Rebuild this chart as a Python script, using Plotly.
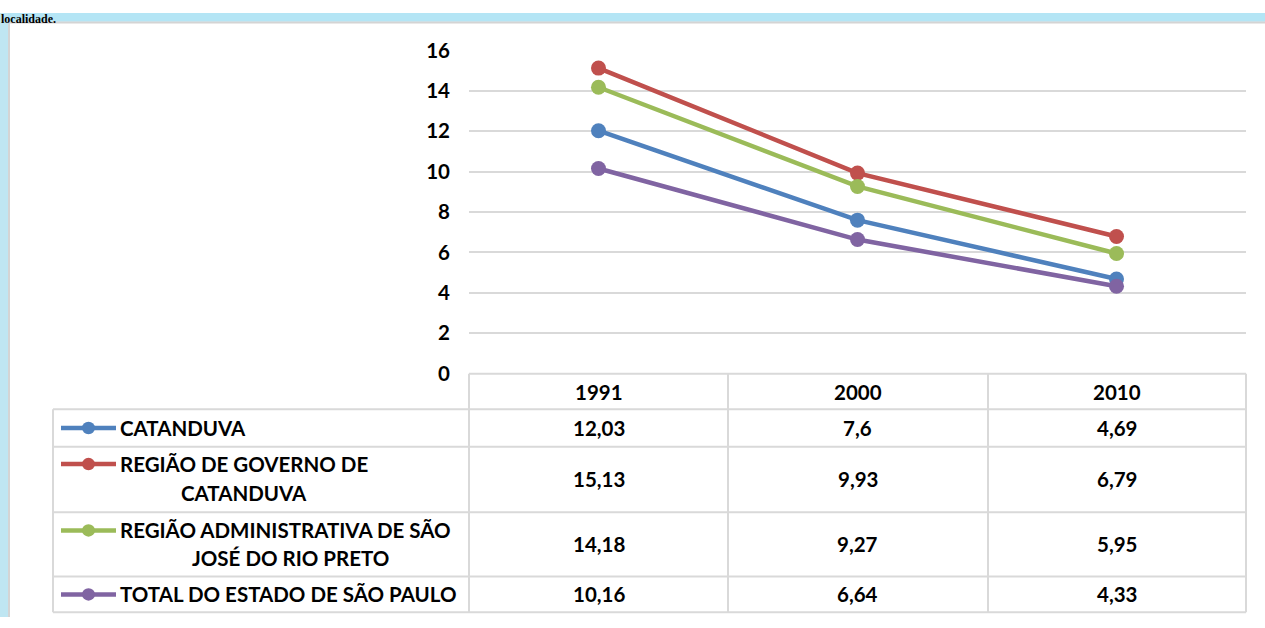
import plotly.graph_objects as go

# data
years = ["1991", "2000", "2010"]
series_names = [
    "CATANDUVA",
    "REGIÃO DE GOVERNO DE<br>CATANDUVA",
    "REGIÃO ADMINISTRATIVA DE SÃO<br>JOSÉ DO RIO PRETO",
    "TOTAL DO ESTADO DE SÃO PAULO",
]
catanduva = [12.03, 7.6, 4.69]
rg_catanduva = [15.13, 9.93, 6.79]
ra_sjrp = [14.18, 9.27, 5.95]
total_sp = [10.16, 6.64, 4.33]
y_ticks = [0, 2, 4, 6, 8, 10, 12, 14, 16]

series_values = [catanduva, rg_catanduva, ra_sjrp, total_sp]
colors = ["#4f81bd", "#c0504d", "#9bbb59", "#8064a2"]

W, H = 1265, 628
FONT = "Lato"
GRID = "#d9d9d9"


def px(x):
    return x / W


def py(y):
    return 1 - y / H


fig = go.Figure()
for name, vals, col in zip(series_names, series_values, colors):
    fig.add_trace(go.Scatter(x=years, y=vals, mode="lines+markers",
                             name=name.replace("<br>", " "),
                             line=dict(color=col, width=4.5),
                             marker=dict(color=col, size=15)))

shapes = []
annotations = []

# background bits (top band and left strip)
shapes.append(dict(type="rect", xref="paper", yref="paper", x0=0, x1=1, y0=py(9), y1=1,
                   fillcolor="#b4e5f5", line_width=0, layer="below"))
shapes.append(dict(type="rect", xref="paper", yref="paper", x0=0, x1=px(8), y0=0, y1=1,
                   fillcolor="#bfe6f2", line_width=0, layer="below"))
shapes.append(dict(type="line", xref="paper", yref="paper", x0=px(8), x1=1, y0=py(10), y1=py(10),
                   line=dict(color="#d4d4d4", width=2)))
shapes.append(dict(type="line", xref="paper", yref="paper", x0=px(9), x1=px(9), y0=0, y1=py(10),
                   line=dict(color="#d4d4d4", width=2)))
# caption remnant at the very top (kept inside the page)
annotations.append(dict(text="<b>localidade.</b>", xref="paper", yref="paper", x=0, y=1,
                        xanchor="left", yanchor="top", borderpad=0, yshift=2,
                        showarrow=False,
                        font=dict(family="Liberation Serif", size=12, color="black")))

# data table grid
row_lines = [375, 412, 451, 519, 586, 623]
col_lines = [469, 728, 988, 1246]
line_style = dict(color=GRID, width=2)
for i, yl in enumerate(row_lines):
    x0 = col_lines[0] if i == 0 else 53
    shapes.append(dict(type="line", xref="paper", yref="paper", x0=px(x0), x1=px(col_lines[-1]),
                       y0=py(yl), y1=py(yl), line=line_style))
for xl in col_lines:
    shapes.append(dict(type="line", xref="paper", yref="paper", x0=px(xl), x1=px(xl),
                       y0=py(row_lines[0]), y1=py(row_lines[-1]), line=line_style))
shapes.append(dict(type="line", xref="paper", yref="paper", x0=px(53), x1=px(53),
                   y0=py(row_lines[1]), y1=py(row_lines[-1]), line=line_style))

tfont = dict(family=FONT, size=20.5, color="black")

# header row (category axis: annotation x is the category index)
for k, yr in enumerate(years):
    annotations.append(dict(text="<b>%s</b>" % yr, xref="x", yref="paper", x=k, y=py(394),
                            showarrow=False, font=tfont, xanchor="center", yanchor="middle"))

row_mid = [431.5, 485, 552.5, 604.5]
key_y = [431.5, 469, 538, 604.5]
line2_y = [None, 499, 567, None]
line2_cx = [None, 244, 290, None]
for i, (name, vals, col) in enumerate(zip(series_names, series_values, colors)):
    for k, v in enumerate(vals):
        annotations.append(dict(text="<b>%s</b>" % ("%g" % v).replace(".", ","),
                                xref="x", yref="paper", x=k, y=py(row_mid[i]),
                                showarrow=False, font=tfont, xanchor="center", yanchor="middle"))
    # legend key
    shapes.append(dict(type="line", xref="paper", yref="paper", x0=px(61), x1=px(116),
                       y0=py(key_y[i]), y1=py(key_y[i]), line=dict(color=col, width=4.5)))
    shapes.append(dict(type="circle", xref="paper", yref="paper", x0=px(82), x1=px(95),
                       y0=py(key_y[i] + 6.5), y1=py(key_y[i] - 6.5), fillcolor=col, line_width=0))
    parts = name.split("<br>")
    annotations.append(dict(text="<b>%s</b>" % parts[0], xref="paper", yref="paper",
                            x=px(118), y=py(key_y[i]), showarrow=False, font=tfont,
                            xanchor="left", yanchor="middle"))
    if len(parts) > 1:
        annotations.append(dict(text="<b>%s</b>" % parts[1], xref="paper", yref="paper",
                                x=px(line2_cx[i]), y=py(line2_y[i]), showarrow=False, font=tfont,
                                xanchor="center", yanchor="middle"))

fig.update_layout(
    width=W, height=H,
    margin=dict(l=0, r=0, t=0, b=0),
    paper_bgcolor="white", plot_bgcolor="white",
    showlegend=False,
    shapes=shapes, annotations=annotations,
    xaxis=dict(domain=[px(469), px(1246)], range=[-0.5, 2.5], type="category",
               showticklabels=False, showgrid=False, zeroline=False, showline=False),
    yaxis=dict(domain=[py(375), py(39)], range=[0, 16], tickvals=y_ticks,
               ticktext=["<b>%d</b>" % t for t in y_ticks],
               tickfont=dict(family=FONT, size=20.5, color="black"),
               showgrid=True, gridcolor=GRID, gridwidth=2, zeroline=False,
               showline=False, ticklabelstandoff=18),
)

# pin the figure to the page corner so nothing around it adds space
pin = ("document.documentElement.style.overflow='hidden';"
       "document.body.style.margin='0';document.body.style.overflow='hidden';"
       "var d=document.getElementById('{plot_id}');"
       "d.style.position='absolute';d.style.top='0px';d.style.left='0px';")
fig.write_html("out.html", post_script=pin, config={"displayModeBar": False})
